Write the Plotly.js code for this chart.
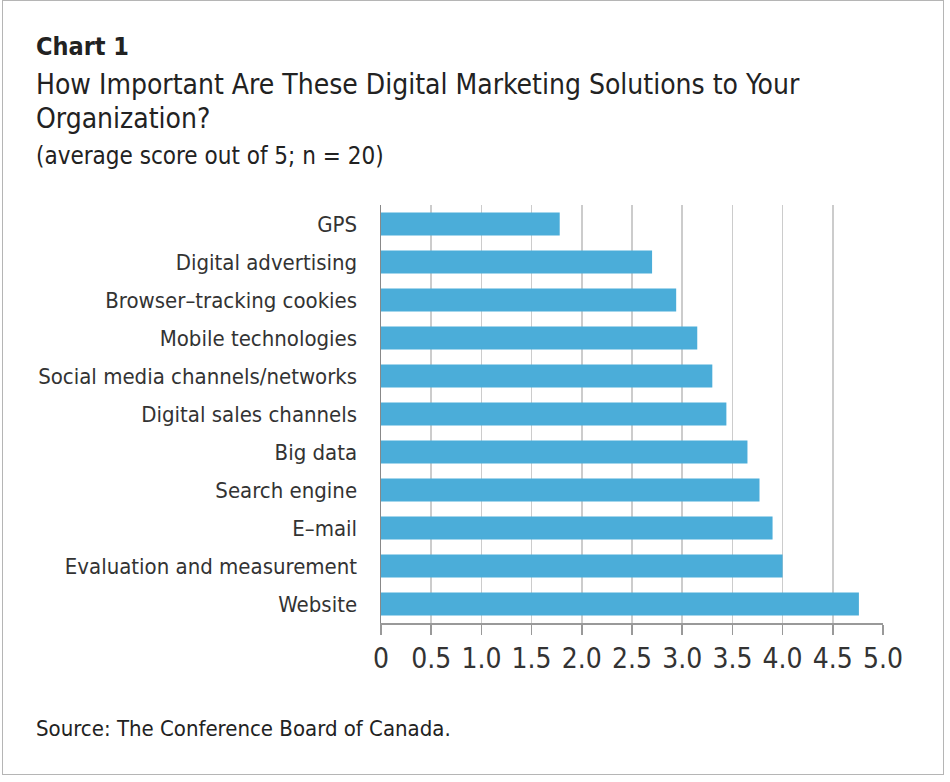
<!DOCTYPE html>
<html>
<head>
<meta charset="utf-8">
<script src="https://cdn.plot.ly/plotly-3.0.1.min.js"></script>
<style>
  html, body { margin: 0; padding: 0; background: #ffffff; }
  #wrap { position: relative; width: 950px; height: 782px; }
  #chart { position: absolute; left: 0; top: 0; width: 950px; height: 782px; }
  #frame { position: absolute; left: 2px; top: 0px; width: 942px; height: 775px; border: 1.5px solid #b5b5b5; box-sizing: border-box; pointer-events: none; }
</style>
</head>
<body>
<div id="wrap">
  <div id="chart"></div>
  <div id="frame"></div>
</div>
<script>
// Data (top to bottom as in the chart)
const categories = [
  "GPS",
  "Digital advertising",
  "Browser\u2013tracking cookies",
  "Mobile technologies",
  "Social media channels/networks",
  "Digital sales channels",
  "Big data",
  "Search engine",
  "E\u2013mail",
  "Evaluation and measurement",
  "Website"
];
const scores = [1.78, 2.70, 2.94, 3.15, 3.30, 3.44, 3.65, 3.77, 3.90, 4.00, 4.76];
const tickVals = [0, 0.5, 1, 1.5, 2, 2.5, 3, 3.5, 4, 4.5, 5];
const tickLabels = ["0", "0.5", "1.0", "1.5", "2.0", "2.5", "3.0", "3.5", "4.0", "4.5", "5.0"];

const FONT = '"Liberation Sans Narrow", "DejaVu Sans Condensed", "Roboto", sans-serif';

// pixel helpers for placing annotations relative to the plot area
const L = 381, R = 883, T = 205, B = 623;
const px = x => (x - L) / (R - L);
const py = y => (B - y) / (B - T);

const trace = {
  type: 'bar',
  orientation: 'h',
  x: scores,
  y: categories,
  marker: { color: '#4badd9', line: { width: 0 } },
  hoverinfo: 'x+y'
};

const layout = {
  width: 950,
  height: 782,
  margin: { l: L, r: 950 - R, t: T, b: 782 - B },
  paper_bgcolor: 'rgba(0,0,0,0)',
  plot_bgcolor: '#ffffff',
  bargap: 0.4,
  showlegend: false,
  font: { family: FONT, color: '#333333' },
  xaxis: {
    range: [0, 5],
    tickmode: 'array',
    tickvals: tickVals,
    ticktext: tickLabels,
    tickfont: { size: 28, color: '#333333', family: FONT },
    ticks: 'outside',
    ticklen: 10,
    tickwidth: 1.5,
    tickcolor: '#999999',
    showgrid: true,
    gridcolor: '#cccccc',
    gridwidth: 1.5,
    zeroline: false,
    showline: true,
    linecolor: '#999999',
    linewidth: 1.5,
    fixedrange: true
  },
  yaxis: {
    autorange: 'reversed',
    tickfont: { size: 22, color: '#333333', family: FONT },
    ticks: '',
    ticklabelstandoff: 18,
    showgrid: false,
    zeroline: false,
    showline: true,
    linecolor: '#888888',
    linewidth: 1.5,
    fixedrange: true
  },
  annotations: [
    { text: '<b>Chart 1</b>', xref: 'paper', yref: 'paper', x: px(34), y: py(46), xanchor: 'left', yanchor: 'middle', showarrow: false, font: { size: 25, color: '#222222', family: FONT } },
    { text: 'How Important Are These Digital Marketing Solutions to Your', xref: 'paper', yref: 'paper', x: px(34), y: py(84), xanchor: 'left', yanchor: 'middle', showarrow: false, font: { size: 28, color: '#222222', family: FONT } },
    { text: 'Organization?', xref: 'paper', yref: 'paper', x: px(34), y: py(119), xanchor: 'left', yanchor: 'middle', showarrow: false, font: { size: 28, color: '#222222', family: FONT } },
    { text: '(average score out of 5; n = 20)', xref: 'paper', yref: 'paper', x: px(34), y: py(156), xanchor: 'left', yanchor: 'middle', showarrow: false, font: { size: 24, color: '#222222', family: FONT } },
    { text: 'Source: The Conference Board of Canada.', xref: 'paper', yref: 'paper', x: px(34), y: py(728), xanchor: 'left', yanchor: 'middle', showarrow: false, font: { size: 22, color: '#222222', family: FONT } }
  ]
};

Plotly.newPlot('chart', [trace], layout, { displayModeBar: false, staticPlot: true });
</script>
</body>
</html>
